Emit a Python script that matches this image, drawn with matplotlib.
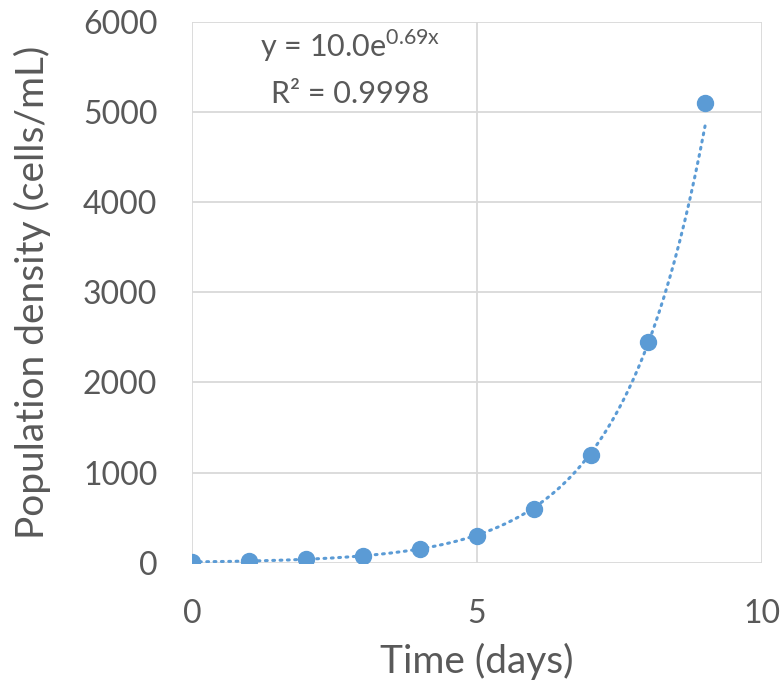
import numpy as np
import matplotlib.pyplot as plt

plt.rcParams['font.family'] = ['Lato', 'DejaVu Sans']

days = [0, 1, 2, 3, 4, 5, 6, 7, 8, 9]
density = [10, 20, 40, 75, 150, 300, 600, 1200, 2450, 5100]

blue = '#5b9bd5'
grey = '#595959'
gridc = '#d9d9d9'

# exponential trendline, fitted on log(y) like Excel does
b, log_a = np.polyfit(days, np.log(density), 1)
xt = np.linspace(days[0], days[-1], 200)
yt = np.exp(log_a) * np.exp(b * xt)

fig = plt.figure(figsize=(7.84, 6.83), dpi=100)
ax = fig.add_axes([0.245, 0.176, 0.727, 0.792])

ax.plot(xt, yt, color=blue, lw=2.2, linestyle=(0, (0.6, 1.8)), dash_capstyle='round', zorder=2)
ax.plot(days, density, 'o', color=blue, markersize=11.5, zorder=3)

ax.set_xlim(0, 10)
ax.set_ylim(0, 6000)
ax.set_xticks([0, 5, 10])
ax.set_yticks(range(0, 6001, 1000))
ax.grid(True, color=gridc, lw=1.3)
ax.set_axisbelow(True)
for s in ax.spines.values():
    s.set_visible(False)
ax.tick_params(length=0, labelsize=23, labelcolor=grey)
ax.tick_params(axis='y', pad=25)
ax.tick_params(axis='x', pad=26)

ax.set_xlabel('Time (days)', fontsize=28, color=grey, labelpad=10)
ax.set_ylabel('Population density (cells/mL)', fontsize=28, color=grey, labelpad=23)

ax.text(0.277, 0.956, r'y = 10.0e$^{\mathregular{0.69x}}$', transform=ax.transAxes,
        ha='center', va='center', fontsize=22, color=grey,
        bbox=dict(facecolor='white', edgecolor='none', pad=2))
ax.text(0.277, 0.867, 'R² = 0.9998', transform=ax.transAxes,
        ha='center', va='center', fontsize=22, color=grey,
        bbox=dict(facecolor='white', edgecolor='none', pad=2))

fig.savefig('out.png', dpi=100)
